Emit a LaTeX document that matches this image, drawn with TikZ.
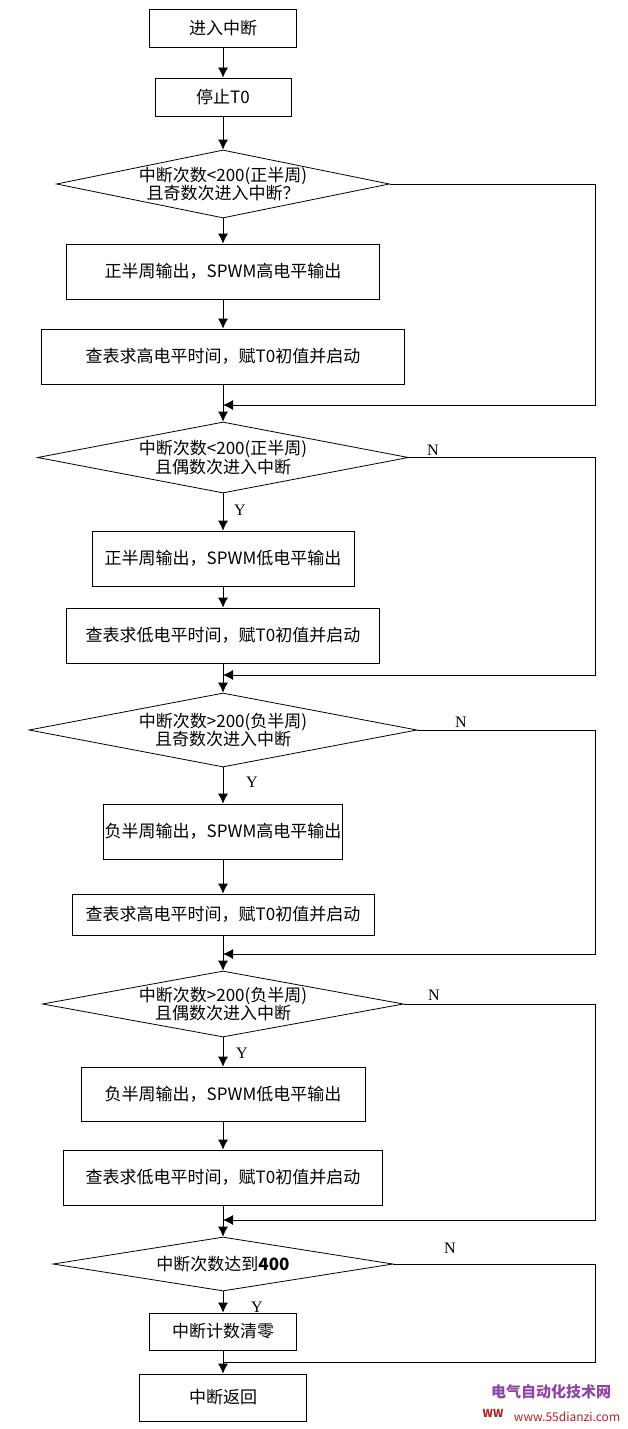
\documentclass[tikz,border=0pt]{standalone}
\usepackage{fontspec}
\setmainfont{Noto Sans CJK SC}
\newfontfamily\latinserif{Liberation Serif}
\usetikzlibrary{shapes.geometric,arrows.meta}
\definecolor{wmpurple}{RGB}{140,70,165}
\definecolor{wmred}{RGB}{175,35,35}
\tikzset{
  box/.style={draw, line width=0.8pt, minimum height=55, inner sep=0pt},
  dec/.style={draw, diamond, line width=0.8pt, inner sep=0pt},
  arr/.style={-{Latex[length=10pt,width=10pt]}, line width=0.8pt},
  flow/.style={line width=0.8pt},
  yn/.style={font=\latinserif\fontsize{16}{16}\selectfont}
}

\begin{document}
\begin{tikzpicture}[x=1pt,y=-1pt,font=\fontsize{17}{18.5}\selectfont]
    \useasboundingbox (0,0) rectangle (627,1429);
    \coordinate (rail) at (595,0); % right return line
    % start
    \node[box, minimum width=147, minimum height=38] (start) at (223,28) {进入中断};
    \node[box, minimum width=136, minimum height=38] (stop) at (223,97) {停止T0};
    % positive half, odd
    \node[dec, minimum width=333, minimum height=68] (d1) at (223,184) {};
    \node[align=center] (d1t) at (d1) {中断次数<200(正半周)\\且奇数次进入中断？};
    \node[box, minimum width=313] (b1) at (223,271.5) {正半周输出，SPWM高电平输出};
    \node[box, minimum width=363] (b2) at (223,356.5) {查表求高电平时间，赋T0初值并启动};
    \coordinate (m1) at (223,405);
    % positive half, even
    \node[dec, minimum width=371, minimum height=71] (d2) at (223,457.5) {};
    \node[align=center] (d2t) at (d2) {中断次数<200(正半周)\\且偶数次进入中断};
    \node[box, minimum width=262] (b3) at (223,558.5) {正半周输出，SPWM低电平输出};
    \node[box, minimum width=313] (b4) at (223,635.5) {查表求低电平时间，赋T0初值并启动};
    \coordinate (m2) at (223,675);
    % negative half, odd
    \node[dec, minimum width=388, minimum height=74] (d3) at (223,730) {};
    \node[align=center] (d3t) at (d3) {中断次数>200(负半周)\\且奇数次进入中断};
    \node[box, minimum width=239] (b5) at (223,831.5) {负半周输出，SPWM高电平输出};
    \node[box, minimum width=302, minimum height=41] (b6) at (223,914.5) {查表求高电平时间，赋T0初值并启动};
    \coordinate (m3) at (223,954);
    % negative half, even
    \node[dec, minimum width=361, minimum height=66] (d4) at (223,1004) {};
    \node[align=center] (d4t) at (d4) {中断次数>200(负半周)\\且偶数次进入中断};
    \node[box, minimum width=284, minimum height=54] (b7) at (223,1094) {负半周输出，SPWM低电平输出};
    \node[box, minimum width=319] (b8) at (223,1177.5) {查表求低电平时间，赋T0初值并启动};
    \coordinate (m4) at (223,1220);
    % end of period
    \node[dec, minimum width=340, minimum height=54] (d5) at (223,1264) {};
    \node (d5t) at (d5) {中断次数达到\textbf{400}};
    \node[box, minimum width=147, minimum height=37] (b9) at (223,1331.5) {中断计数清零};
    \coordinate (m5) at (223,1362);
    \node[box, minimum width=167, minimum height=47] (ret) at (223,1397.5) {中断返回};

    % main line
    \draw[arr] (start) -- (stop);
    \draw[arr] (stop) -- (d1.north);
    \draw[arr] (d1.south) -- (b1);
    \draw[arr] (b1) -- (b2);
    \draw[arr] (b2) -- (d2.north);
    \draw[arr] (d2.south) -- (b3);
    \draw[arr] (b3) -- (b4);
    \draw[arr] (b4) -- (d3.north);
    \draw[arr] (d3.south) -- (b5);
    \draw[arr] (b5) -- (b6);
    \draw[arr] (b6) -- (d4.north);
    \draw[arr] (d4.south) -- (b7);
    \draw[arr] (b7) -- (b8);
    \draw[arr] (b8) -- (d5.north);
    \draw[arr] (d5.south) -- (b9);
    \draw[arr] (b9) -- (ret);
    % N branches
    \draw[arr] (d1.east) -- (d1.east -| rail) |- (m1);
    \draw[arr] (d2.east) -- (d2.east -| rail) |- (m2);
    \draw[arr] (d3.east) -- (d3.east -| rail) |- (m3);
    \draw[arr] (d4.east) -- (d4.east -| rail) |- (m4);
    \draw[flow] (d5.east) -- (d5.east -| rail) |- (m5);
    % labels
    \node[yn] (n2) at (433,450) {N};
    \node[yn] (y2) at (240,510) {Y};
    \node[yn] (n3) at (461,722) {N};
    \node[yn] (y3) at (252,782) {Y};
    \node[yn] (n4) at (434,995) {N};
    \node[yn] (y4) at (242,1053) {Y};
    \node[yn] (n5) at (450,1248) {N};
    \node[yn] (y5) at (257,1307) {Y};
    % watermark
    \node[text=wmpurple, font=\bfseries\fontsize{15}{15}\selectfont] (wm) at (551,1392) {电气自动化技术网};
    \node[text=wmred, font=\bfseries\fontsize{11}{11}\selectfont] (ww) at (493,1413) {WW};
    \node[text=wmred, font=\fontsize{12}{12}\selectfont] (url) at (567,1417) {www.55dianzi.com};
\end{tikzpicture}
\end{document}
